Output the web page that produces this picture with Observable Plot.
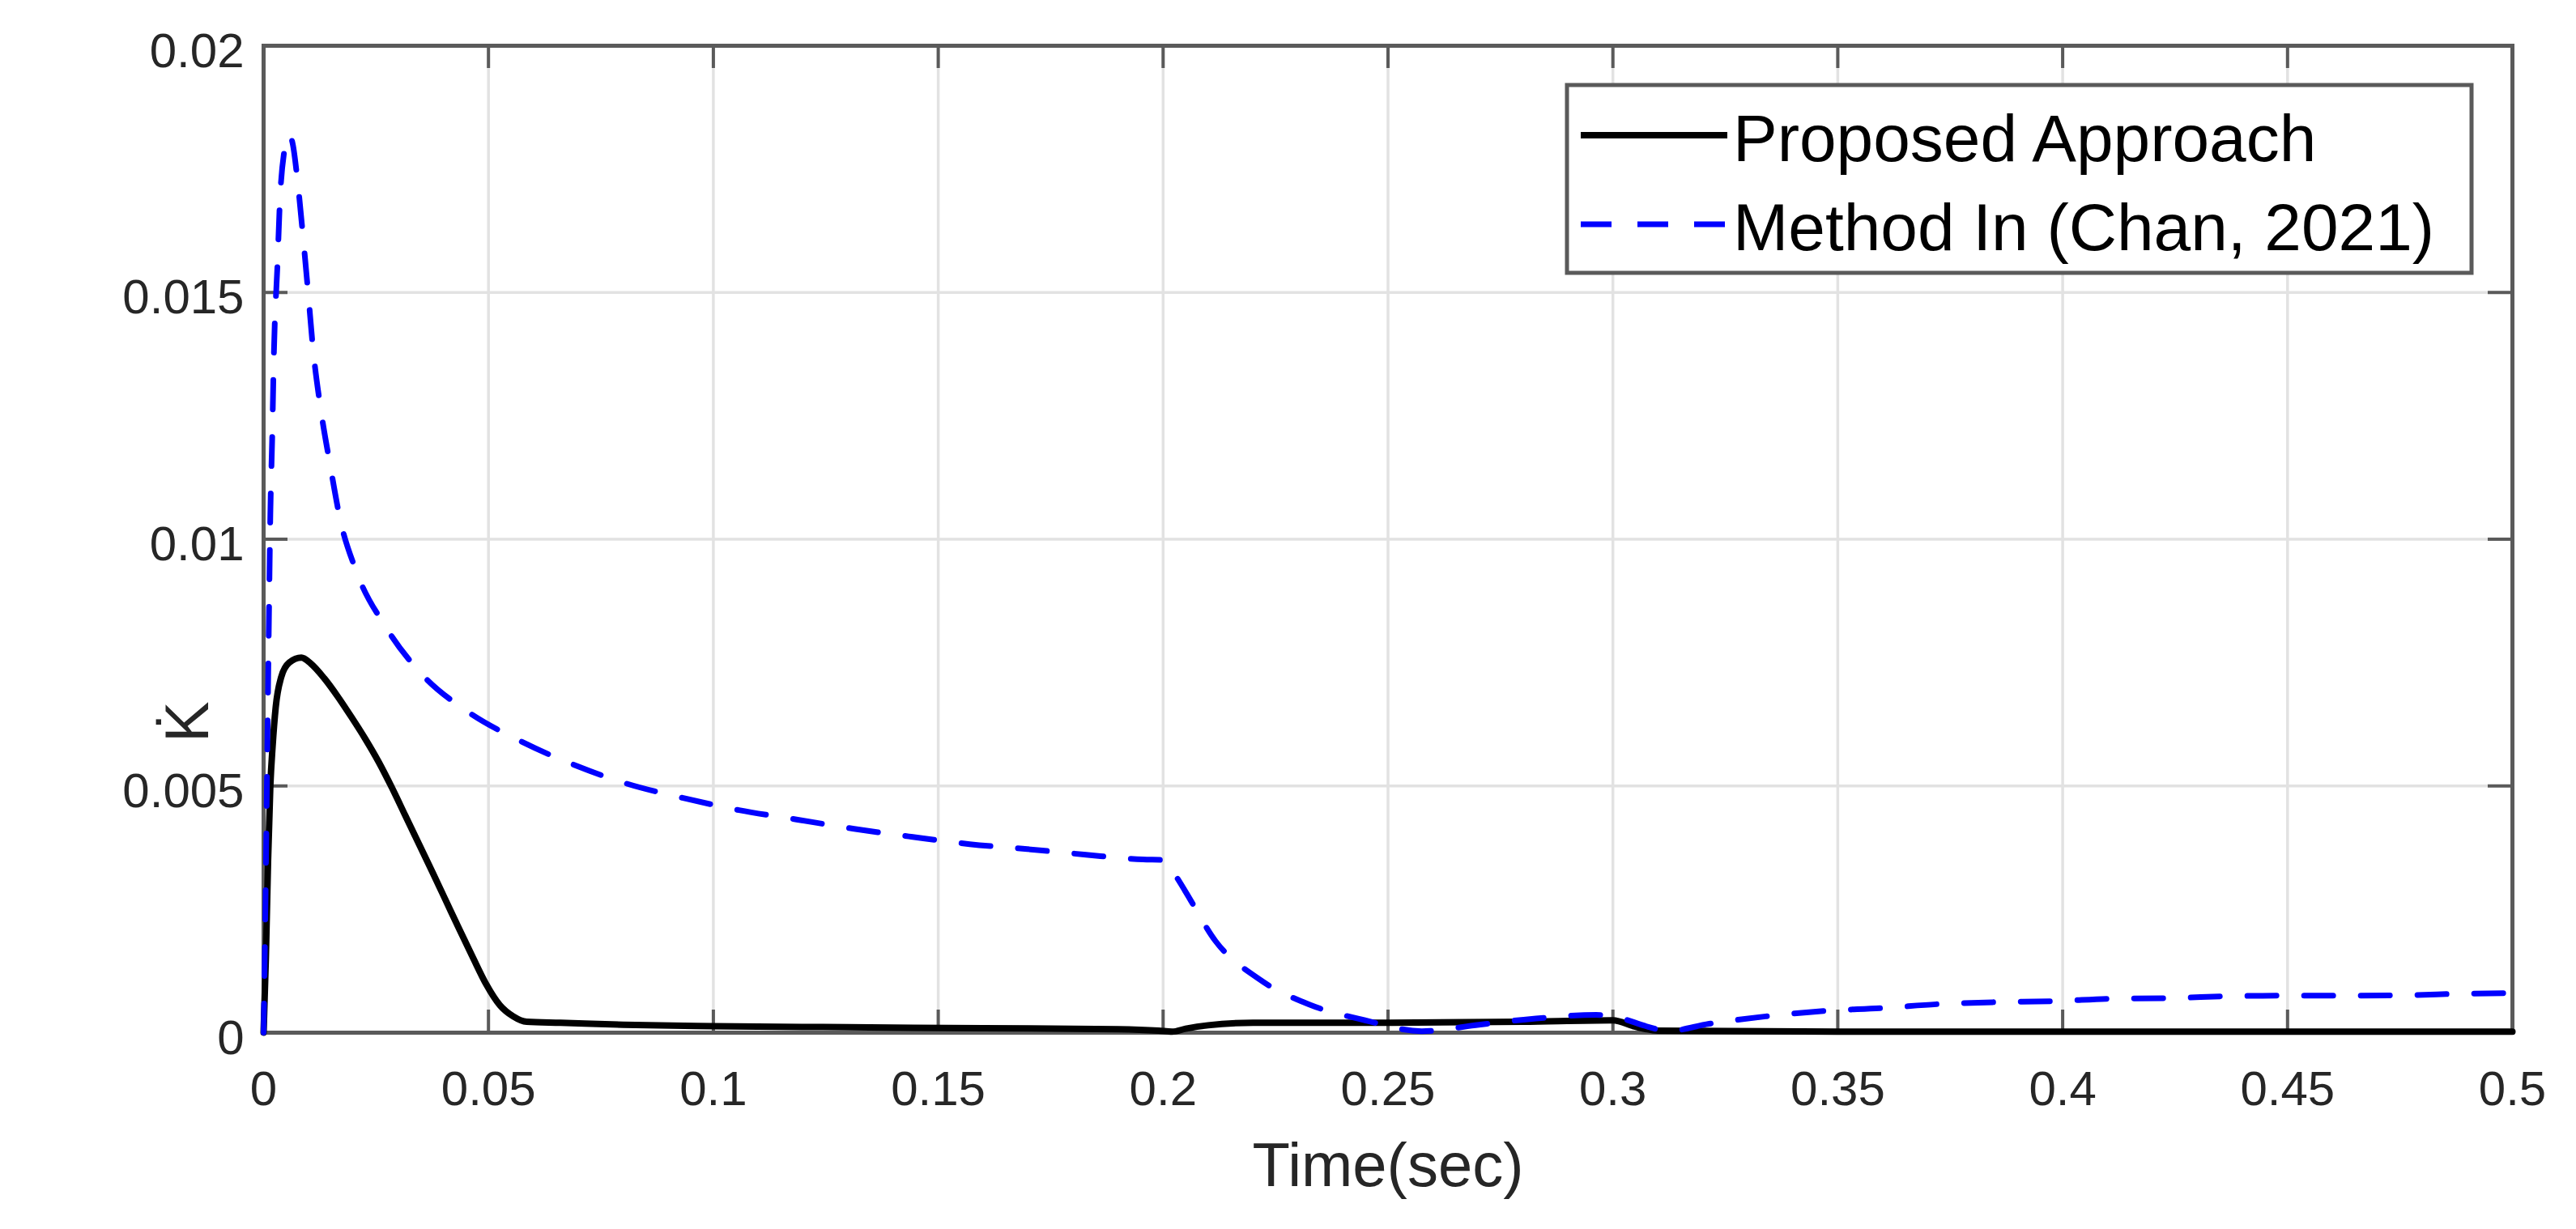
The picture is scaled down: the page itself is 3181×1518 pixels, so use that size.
<!DOCTYPE html>
<html>
<head>
<meta charset="utf-8">
<script src="https://cdn.jsdelivr.net/npm/d3@7"></script>
<script src="https://cdn.jsdelivr.net/npm/@observablehq/plot@0.6"></script>
<style>
  html, body { margin: 0; padding: 0; background: #fff; }
  #wrap { position: relative; width: 3181px; height: 1518px; }
  #legend { position: absolute; left: 0; top: 0; }
</style>
</head>
<body>
<div id="wrap"></div>
<script>
// ---------- data ----------
const seriesNames = ["Proposed Approach", "Method In (Chan, 2021)"];

const proposedT = [0, 0.0005, 0.001, 0.0015, 0.002, 0.0027, 0.0039, 0.0057, 0.0084, 0.0105, 0.0135, 0.0165, 0.0195, 0.0225, 0.0255, 0.0285, 0.0315, 0.0345, 0.0375, 0.0405, 0.0435, 0.0465, 0.0495, 0.0525, 0.0555, 0.0585, 0.066, 0.08, 0.1, 0.13, 0.16, 0.19, 0.199, 0.202, 0.205, 0.21, 0.22, 0.25, 0.28, 0.3, 0.305, 0.31, 0.35, 0.4, 0.45, 0.5];
const proposedV = [0, 0.0015, 0.0035, 0.005, 0.0058, 0.0066, 0.0072, 0.0075, 0.0076, 0.00748, 0.00718, 0.00681, 0.0064, 0.00597, 0.0055, 0.00497, 0.0044, 0.00383, 0.00326, 0.00268, 0.0021, 0.00153, 0.00098, 0.00056, 0.00033, 0.00022, 0.0002, 0.00016, 0.00013, 0.00011, 0.00009, 0.00007, 0.00004, 0.00002, 0.00008, 0.00015, 0.0002, 0.0002, 0.00022, 0.00025, 0.00012, 0.00004, 0.00002, 0.00002, 0.00002, 0.00002];

const chanT = [0, 0.0004, 0.0008, 0.0012, 0.0015, 0.0019, 0.0023, 0.0031, 0.0036, 0.0045, 0.0057, 0.0065, 0.0075, 0.0087, 0.0099, 0.011, 0.0126, 0.0148, 0.0171, 0.0204, 0.0273, 0.0351, 0.0453, 0.0564, 0.0695, 0.0806, 0.0931, 0.1057, 0.1185, 0.1313, 0.144, 0.157, 0.1698, 0.1824, 0.1955, 0.2, 0.203, 0.2049, 0.2117, 0.2211, 0.2325, 0.2449, 0.2575, 0.2702, 0.282, 0.2963, 0.3, 0.3082, 0.312, 0.3214, 0.334, 0.347, 0.36, 0.3727, 0.3857, 0.3985, 0.4114, 0.4242, 0.4372, 0.4507, 0.4636, 0.4764, 0.4894, 0.5];
const chanV = [0, 0.0025, 0.0055, 0.0085, 0.0105, 0.012, 0.0138, 0.0156, 0.0168, 0.0178, 0.0182, 0.018, 0.0173, 0.0162, 0.015, 0.01385, 0.0127, 0.0115, 0.01037, 0.0094, 0.0082, 0.00727, 0.00651, 0.00594, 0.00541, 0.00505, 0.00476, 0.00451, 0.00432, 0.00413, 0.00397, 0.00382, 0.00372, 0.00361, 0.00351, 0.0035, 0.00315, 0.00287, 0.00185, 0.0011, 0.00057, 0.00025, 0.00003, 0.00016, 0.00028, 0.00036, 0.00033, 0.00011, 0.00003, 0.00018, 0.00033, 0.00044, 0.0005, 0.00058, 0.00062, 0.00064, 0.00069, 0.0007, 0.00074, 0.00075, 0.00075, 0.00076, 0.00079, 0.0008];

const xTicks = [0, 0.05, 0.1, 0.15, 0.2, 0.25, 0.3, 0.35, 0.4, 0.45, 0.5];
const xTickLabels = ["0", "0.05", "0.1", "0.15", "0.2", "0.25", "0.3", "0.35", "0.4", "0.45", "0.5"];
const yTicks = [0, 0.005, 0.01, 0.015, 0.02];
const yTickLabels = ["0", "0.005", "0.01", "0.015", "0.02"];
const xLabel = "Time(sec)";
const yLabel = "K\u0307";

// ---------- build ----------
const proposed = proposedT.map((t, i) => ({t, v: proposedV[i]}));
const chan = chanT.map((t, i) => ({t, v: chanV[i]}));

const W = 3181, H = 1518;
const mL = 325, mR = 79, mT = 56, mB = 243;
const plotW = W - mL - mR, plotH = H - mT - mB;
const frameColor = "#5a5a5a";
const font = "'Liberation Sans', Arial, Helvetica, sans-serif";

const chart = Plot.plot({
  width: W, height: H,
  marginLeft: mL, marginRight: mR, marginTop: mT, marginBottom: mB,
  style: {fontFamily: font, background: "#fff", overflow: "visible"},
  x: {domain: [0, 0.5]},
  y: {domain: [0, 0.02]},
  marks: [
    Plot.gridX(xTicks, {stroke: "#e2e2e2", strokeOpacity: 1, strokeWidth: 3.5}),
    Plot.gridY(yTicks, {stroke: "#e2e2e2", strokeOpacity: 1, strokeWidth: 3.5}),
    Plot.frame({stroke: frameColor, strokeWidth: 5}),
    Plot.tickX(xTicks, {x: d => d, stroke: frameColor, strokeWidth: 4, insetTop: plotH - 28}),
    Plot.tickX(xTicks, {x: d => d, stroke: frameColor, strokeWidth: 4, insetBottom: plotH - 28}),
    Plot.tickY(yTicks, {y: d => d, stroke: frameColor, strokeWidth: 4, insetRight: plotW - 30}),
    Plot.tickY(yTicks, {y: d => d, stroke: frameColor, strokeWidth: 4, insetLeft: plotW - 30}),
    Plot.axisX({ticks: xTicks, tickSize: 0, tickPadding: 47, fontSize: 60, fill: "#262626",
      tickFormat: d => xTickLabels[xTicks.indexOf(d)], label: null}),
    Plot.axisY({ticks: yTicks, tickSize: 0, tickPadding: 24, fontSize: 60, fill: "#262626", dy: 7,
      tickFormat: d => yTickLabels[yTicks.indexOf(d)], label: null}),
    Plot.line(proposed, {x: "t", y: "v", stroke: "#000", strokeWidth: 8, curve: "monotone-x"}),
    Plot.line(chan, {x: "t", y: "v", stroke: "#0000ff", strokeWidth: 7, strokeDasharray: "36,34", curve: "monotone-x"}),
    Plot.text([xLabel], {frameAnchor: "bottom", dy: 165, fontSize: 76, fill: "#262626", lineAnchor: "middle"}),
    Plot.text([yLabel], {frameAnchor: "left", dx: -93, dy: 251, rotate: -90, fontSize: 76, fill: "#262626", lineAnchor: "middle"})
  ]
});

const wrap = document.getElementById("wrap");
wrap.appendChild(chart);

// ---------- legend (overlay inside plot area, top-right) ----------
const ns = "http://www.w3.org/2000/svg";
const leg = document.createElementNS(ns, "svg");
leg.setAttribute("id", "legend");
leg.setAttribute("width", W);
leg.setAttribute("height", H);
const box = {x: 1935, y: 105, w: 1117, h: 232};
const rect = document.createElementNS(ns, "rect");
rect.setAttribute("x", box.x); rect.setAttribute("y", box.y);
rect.setAttribute("width", box.w); rect.setAttribute("height", box.h);
rect.setAttribute("fill", "#fff"); rect.setAttribute("stroke", frameColor); rect.setAttribute("stroke-width", 5);
leg.appendChild(rect);
const styles = [
  {stroke: "#000", width: 8, dash: null},
  {stroke: "#0000ff", width: 7, dash: "38,32"}
];
seriesNames.forEach((name, i) => {
  const cy = box.y + 62 + i * 110;
  const ln = document.createElementNS(ns, "line");
  ln.setAttribute("x1", box.x + 17); ln.setAttribute("x2", box.x + 198);
  ln.setAttribute("y1", cy); ln.setAttribute("y2", cy);
  ln.setAttribute("stroke", styles[i].stroke);
  ln.setAttribute("stroke-width", styles[i].width);
  if (styles[i].dash) ln.setAttribute("stroke-dasharray", styles[i].dash);
  leg.appendChild(ln);
  const tx = document.createElementNS(ns, "text");
  tx.setAttribute("x", box.x + 205);
  tx.setAttribute("y", cy + 32);
  tx.setAttribute("font-family", font);
  tx.setAttribute("font-size", 82);
  tx.setAttribute("fill", "#000");
  tx.textContent = name;
  leg.appendChild(tx);
});
wrap.appendChild(leg);
</script>
</body>
</html>
